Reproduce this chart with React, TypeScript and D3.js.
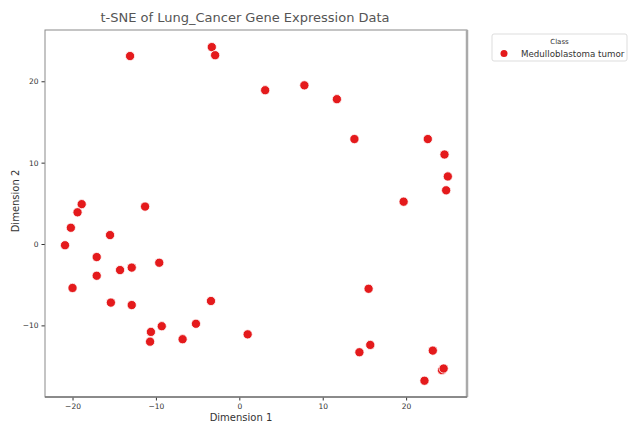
import React, { useEffect, useRef } from 'react';
import * as d3 from 'd3';

const dim1 = [
  -13.1, -3.3, -2.9, 3.1, 7.8, 11.7, 13.8, 22.6, 24.6, 25.0,
  24.8, 19.7, -18.9, -19.4, -20.2, -20.9, -15.5, -11.3, -17.1, -14.3,
  -12.9, -9.6, -17.1, -20.0, -15.4, -12.9, -3.4, 15.5, -9.3, -10.6,
  -10.7, -5.2, -6.8, 1.0, 14.4, 15.7, 23.2, 24.3, 24.5, 22.2,
];
const dim2 = [
  23.1, 24.2, 23.2, 18.9, 19.5, 17.8, 12.9, 12.9, 11.0, 8.3,
  6.6, 5.2, 4.9, 3.9, 2.0, -0.15, 1.1, 4.6, -1.6, -3.2,
  -2.9, -2.3, -3.9, -5.4, -7.2, -7.5, -7.0, -5.5, -10.1, -10.8,
  -12.0, -9.8, -11.7, -11.1, -13.3, -12.4, -13.1, -15.5, -15.3, -16.8,
];
const className = 'Medulloblastoma tumor';
const xTicks = [-20, -10, 0, 10, 20];
const yTicks = [-10, 0, 10, 20];

const W = 631;
const H = 424;
const margin = { top: 30, right: 164, bottom: 27, left: 45 };
const red = '#e41a1c';
const font = 'DejaVu Sans, sans-serif';

export default function App() {
  const ref = useRef<SVGSVGElement>(null);

  useEffect(() => {
    const svg = d3.select(ref.current);
    svg.selectAll('*').remove();
    const width = W - margin.left - margin.right;
    const height = H - margin.top - margin.bottom;

    const x = d3.scaleLinear().domain([-23.3, 27.3]).range([0, width]);
    const y = d3.scaleLinear().domain([-18.8, 26.3]).range([height, 0]);

    const g = svg.append('g').attr('transform', `translate(${margin.left},${margin.top})`);

    const fmt = (d: d3.NumberValue) => d3.format('d')(d as number).replace('-', '\u2212');
    const xAxis = g.append('g')
      .attr('transform', `translate(0,${height})`)
      .call(d3.axisBottom(x).tickValues(xTicks).tickSize(3.5).tickPadding(3).tickFormat(fmt));
    const yAxis = g.append('g')
      .call(d3.axisLeft(y).tickValues(yTicks).tickSize(3.5).tickPadding(3).tickFormat(fmt));
    [xAxis, yAxis].forEach((a) => {
      a.select('.domain').remove();
      a.selectAll('line').attr('stroke', '#333');
      a.selectAll('text').attr('font-family', font).attr('font-size', 7.5).attr('fill', '#333');
    });

    // frame
    g.append('rect')
      .attr('width', width)
      .attr('height', height)
      .attr('fill', 'none')
      .attr('stroke', '#8a8a8a')
      .attr('stroke-width', 1);
    g.append('line').attr('x1', width).attr('x2', width).attr('y1', 0).attr('y2', height)
      .attr('stroke', '#aaa').attr('stroke-width', 2.5);
    g.append('line').attr('x1', 0).attr('x2', width).attr('y1', height).attr('y2', height)
      .attr('stroke', '#777').attr('stroke-width', 1.5);

    g.selectAll('circle.pt')
      .data(dim1)
      .join('circle')
      .attr('class', 'pt')
      .attr('cx', (d) => x(d))
      .attr('cy', (_, i) => y(dim2[i]))
      .attr('r', 4.6)
      .attr('fill', red)
      .attr('stroke', '#fff')
      .attr('stroke-width', 0.8);

    svg.append('text')
      .attr('x', 245)
      .attr('y', 22)
      .attr('text-anchor', 'middle')
      .attr('font-family', font)
      .attr('font-size', 13)
      .attr('fill', '#555')
      .text('t-SNE of Lung_Cancer Gene Expression Data');

    svg.append('text')
      .attr('x', 241)
      .attr('y', 420.5)
      .attr('text-anchor', 'middle')
      .attr('font-family', font)
      .attr('font-size', 10)
      .attr('fill', '#333')
      .text('Dimension 1');

    svg.append('text')
      .attr('transform', 'translate(19,201) rotate(-90)')
      .attr('text-anchor', 'middle')
      .attr('font-family', font)
      .attr('font-size', 10)
      .attr('fill', '#333')
      .text('Dimension 2');

    // legend
    const lg = svg.append('g').attr('transform', 'translate(492,34)');
    lg.append('rect')
      .attr('width', 135)
      .attr('height', 27)
      .attr('rx', 2)
      .attr('fill', '#fff')
      .attr('stroke', '#ddd');
    lg.append('text')
      .attr('x', 67.5)
      .attr('y', 10)
      .attr('text-anchor', 'middle')
      .attr('font-family', font)
      .attr('font-size', 7)
      .attr('fill', '#333')
      .text('Class');
    lg.append('circle').attr('cx', 12).attr('cy', 19.5).attr('r', 3.5).attr('fill', red);
    lg.append('text')
      .attr('x', 29)
      .attr('y', 22.8)
      .attr('font-family', font)
      .attr('font-size', 8.7)
      .attr('fill', '#333')
      .text(className);
  }, []);

  return (
    <div style={{ position: 'fixed', top: 0, left: 0 }}>
      <svg ref={ref} width={W} height={H} style={{ display: 'block', background: '#fff' }} />
    </div>
  );
}
